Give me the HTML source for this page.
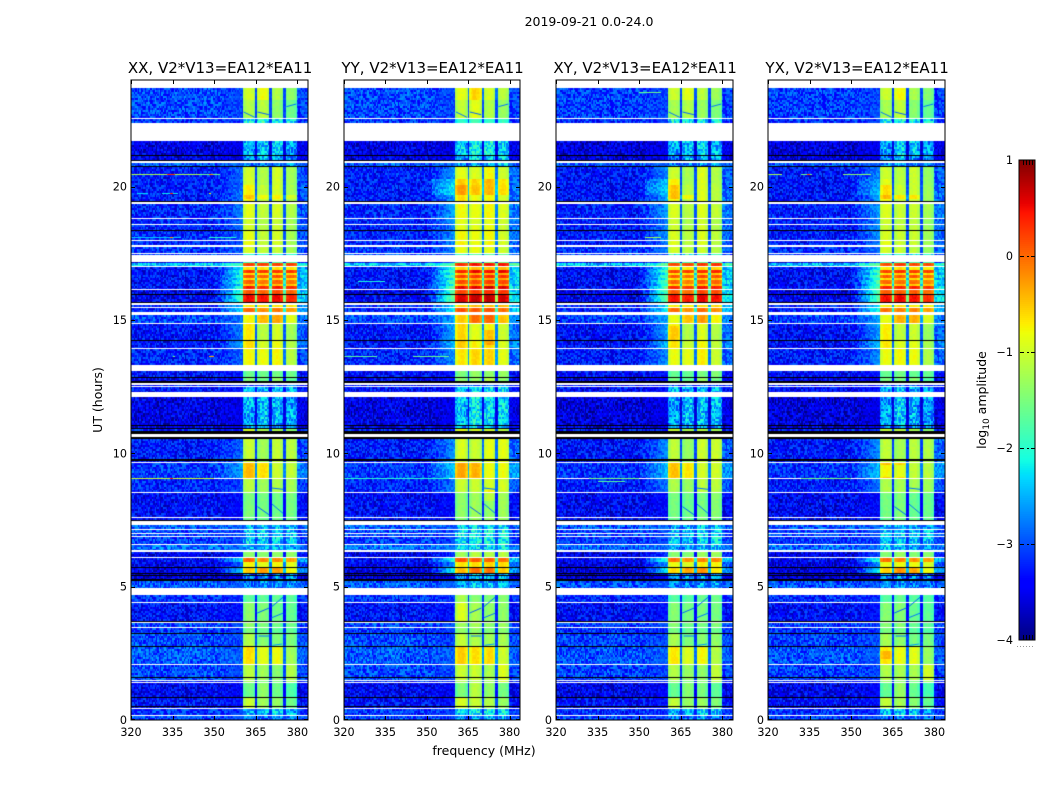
<!DOCTYPE html>
<html>
<head>
<meta charset="utf-8">
<title>Waterfall 2019-09-21</title>
<style>
html,body{margin:0;padding:0;background:#fff}
#fig{position:relative;width:1050px;height:800px;background:#fff;overflow:hidden;font-family:"DejaVu Sans",sans-serif}
canvas{position:absolute;display:block}
svg{position:absolute;left:0;top:0}
text{font-family:"DejaVu Sans",sans-serif;fill:#000}
</style>
</head>
<body>
<div id="fig"></div>
<script>
// ---------- chart data ----------
const panelTitles = ["XX, V2*V13=EA12*EA11","YY, V2*V13=EA12*EA11","XY, V2*V13=EA12*EA11","YX, V2*V13=EA12*EA11"];
const xTicks = [320,335,350,365,380];
const yTicks = [0,5,10,15,20];
const cbarTicks = [1,0,-1,-2,-3,-4];
// spectral windows (MHz)
const subBands = [[360.4,364.7],[365.5,369.8],[370.6,374.9],[375.6,379.7]];
// amplitude roll-off across one window, left edge to right edge
const windowShape = [-0.2,-0.08,0,0.03,0.05,0.05,0.03,0,-0.08,-0.2];
// time bands: UT low, UT high, background, wing, window 1-4 (log10 amplitude); uncovered time stays blank
const bands = [
[23.25,23.70,-3.05,-3.05,-1.0,-0.85,-1.2,-1.4],
[22.56,23.25,-3.05,-3.05,-1.2,-1.15,-1.4,-1.6],
[22.40,22.52,-3.15,-3.15,-2.1,-2.1,-2.2,-2.2],
[21.19,21.72,-3.55,-3.55,-2.55,-2.4,-2.35,-2.6],
[21.00,21.15,-3.55,-3.55,-2.7,-2.5,-2.6,-2.7],
[20.78,20.89,-2.95,-2.95,-2.7,-2.7,-2.7,-2.7],
[20.06,20.72,-3.3,-2.9,-1.0,-1.2,-1.0,-1.3],
[19.46,20.06,-3.3,-2.8,-0.75,-1.1,-1.0,-1.25],
[18.83,19.35,-3.25,-2.8,-0.9,-1.1,-1.0,-1.2],
[18.60,18.79,-3.25,-2.9,-1.0,-1.2,-1.1,-1.3],
[18.39,18.56,-3.25,-2.9,-1.0,-1.15,-1.05,-1.3],
[18.00,18.36,-3.25,-2.9,-0.9,-1.1,-1.0,-1.25],
[17.81,17.96,-3.25,-3.0,-0.85,-1.1,-1.0,-1.25],
[17.53,17.74,-3.15,-3.0,-0.95,-1.1,-1.1,-1.3],
[17.44,17.49,-3.05,-3.05,-2.0,-2.0,-2.0,-2.0],
[17.12,17.18,-3.5,-3.0,-1.8,-1.8,-1.8,-1.8],
[17.04,17.12,-2.4,-1.8,0.2,0.2,0.2,0.2],
[16.89,17.00,-3.35,-2.2,-0.7,-0.7,-0.7,-0.7],
[16.75,16.89,-3.35,-1.9,0.25,0.25,0.25,0.25],
[16.69,16.75,-3.35,-2.2,-0.6,-0.6,-0.6,-0.6],
[16.56,16.69,-3.35,-1.9,0.1,0.0,0.1,0.0],
[16.50,16.56,-3.35,-2.2,-0.6,-0.6,-0.6,-0.6],
[16.35,16.50,-3.35,-1.9,0.05,-0.1,0.0,-0.1],
[16.28,16.35,-3.35,-2.2,-0.5,-0.5,-0.5,-0.5],
[16.16,16.28,-3.35,-1.8,0.4,0.3,0.4,0.3],
[15.98,16.11,-3.5,-1.9,0.1,0.0,0.1,0.0],
[15.68,15.93,-3.45,-1.8,0.5,0.45,0.5,0.35],
[15.49,15.56,-3.25,-2.4,-0.7,-0.7,-0.7,-0.7],
[15.31,15.45,-3.25,-2.3,0.0,-0.2,-0.1,-0.3],
[14.89,15.19,-3.05,-2.8,-0.8,-0.45,-0.35,-0.9],
[14.25,14.85,-3.35,-2.8,-0.7,-1.15,-1.0,-1.3],
[13.95,14.21,-3.35,-2.6,-0.65,-1.0,-0.85,-1.2],
[13.31,13.91,-3.25,-2.9,-0.8,-0.85,-0.8,-1.15],
[12.86,13.09,-3.35,-3.35,-1.6,-1.6,-1.6,-1.6],
[12.71,12.83,-3.45,-3.45,-1.5,-1.6,-1.4,-1.7],
[12.53,12.56,-3.25,-3.25,-3.0,-3.0,-3.0,-3.0],
[12.31,12.49,-3.35,-3.35,-2.5,-2.5,-2.5,-2.5],
[11.08,12.11,-3.55,-3.55,-2.55,-2.45,-2.5,-2.6],
[10.95,11.04,-3.55,-3.55,-2.7,-2.7,-2.7,-2.7],
[10.84,10.91,-3.25,-3.25,-1.0,-1.2,-1.2,-1.4],
[9.77,10.52,-3.3,-2.9,-1.05,-1.3,-1.1,-1.15],
[9.67,9.73,-3.25,-2.9,-1.05,-1.3,-1.1,-1.15],
[9.08,9.64,-3.15,-2.6,-0.45,-0.65,-1.05,-1.1],
[8.64,9.04,-3.25,-3.05,-1.15,-1.3,-1.2,-1.25],
[8.55,8.61,-3.25,-3.05,-1.2,-1.3,-1.2,-1.3],
[7.63,8.51,-3.4,-3.4,-1.5,-1.55,-1.6,-1.55],
[7.50,7.59,-3.35,-3.35,-1.6,-1.6,-1.6,-1.6],
[7.16,7.31,-2.9,-2.9,-2.5,-2.5,-2.5,-2.5],
[7.01,7.13,-3.05,-3.05,-2.4,-2.4,-2.4,-2.4],
[6.90,6.975,-3.05,-3.05,-2.4,-2.4,-2.4,-2.4],
[6.60,6.86,-3.1,-3.1,-2.35,-2.35,-2.35,-2.35],
[6.375,6.55,-2.85,-2.85,-2.5,-2.5,-2.5,-2.5],
[6.12,6.31,-3.5,-3.3,-1.4,-1.4,-1.4,-1.4],
[5.94,6.09,-3.4,-2.2,0.0,-0.2,-0.2,-0.3],
[5.74,5.94,-3.5,-2.9,-0.8,-0.9,-0.8,-0.9],
[5.53,5.70,-3.55,-2.4,-0.55,-0.3,-0.3,-0.8],
[5.44,5.49,-3.7,-3.7,-2.8,-2.8,-2.8,-2.8],
[5.29,5.40,-3.6,-3.6,-2.7,-2.7,-2.7,-2.7],
[4.95,5.21,-2.95,-2.95,-2.7,-2.7,-2.7,-2.7],
[4.41,4.69,-3.15,-3.15,-1.7,-1.7,-1.7,-1.7],
[3.71,4.37,-3.35,-3.35,-1.4,-1.5,-1.6,-1.65],
[3.49,3.65,-3.05,-3.05,-1.4,-1.5,-1.6,-1.6],
[3.26,3.45,-3.15,-3.15,-1.5,-1.6,-1.7,-1.7],
[2.78,3.22,-3.05,-3.05,-1.2,-1.45,-1.5,-1.5],
[2.10,2.74,-2.95,-2.95,-0.65,-0.9,-0.85,-1.3],
[1.50,2.06,-3.05,-3.05,-1.15,-1.3,-1.45,-1.2],
[1.43,1.46,-3.25,-3.25,-1.3,-1.5,-1.5,-1.3],
[0.86,1.39,-3.45,-3.45,-1.6,-1.4,-1.6,-1.8],
[0.45,0.83,-3.35,-3.35,-1.05,-1.3,-1.4,-1.6],
[0.19,0.41,-3.15,-3.15,-2.5,-2.4,-2.35,-2.5],
[0.00,0.15,-3.05,-3.05,-2.8,-2.8,-2.7,-2.8]
];
// masked integrations drawn black: UT low, UT high
const blackBands = [
[21.15,21.19],[20.96,21.0],[20.72,20.78],[19.43,19.46],[18.36,18.39],[15.93,15.98],[15.62,15.66],[14.21,14.25],
[12.83,12.86],[12.62,12.71],[11.04,11.08],[10.91,10.95],[10.73,10.84],[10.54,10.61],[9.73,9.77],
[7.47,7.50],[5.70,5.74],[5.49,5.53],[5.40,5.44],[5.21,5.29],[3.68,3.71],[3.22,3.26],[2.74,2.78],
[1.575,1.61],[0.83,0.86],[0.47,0.51]
];
// per-polarisation offsets
const panelWindowOffset = [[0,0,0,0],[0.1,0.25,0.2,0.25],[-0.05,-0.05,0.05,0.1],[-0.05,0.05,-0.05,-0.05]];
const panelBgOffset = [0,0,-0.05,-0.05];
const panelWingOffset = [0,0.25,0.2,0.2];
// local brightening: panel, UT low, UT high, MHz low, MHz high, delta
const patches = [
[0,19.54,19.69,360,380,0.25],[2,19.54,19.69,360,370,0.35],[3,19.54,19.69,360,375,0.35],
[1,19.7,20.25,352,380,0.35],[1,14.1,14.6,370,375,0.3],[1,8.2,8.6,370,375,0.25],
[2,19.7,20.25,352,365,0.3],[3,19.7,20.25,352,365,0.15],[3,2.3,2.6,360,365,0.25],
[1,14.85,15.19,360,380,0.15],[2,14.2,14.8,360,365,0.2],[3,9.1,9.6,360,370,-0.3],
[1,3.7,4.7,360,365,0.35],[3,1.5,2.06,370,380,0.25]
];
// narrow-band interference: UT, panel, MHz low, MHz high, value
const rfiLines = [
[20.47,0,320,345,-1.2],[20.47,0,333,336,0.3],[20.47,0,345,352,-1.6],[20.47,0,348,349.5,-0.2],
[19.76,0,322,326,-2.3],[19.76,0,331,337,-2.2],[19.76,0,334,335,0.3],[19.76,0,348,349,-0.8],
[18.10,0,320,338,-2.4],[18.10,0,334,335,-0.3],[18.10,0,348,358,-2.0],
[13.65,0,335,336,-1.5],[13.65,0,348,350,-0.3],
[9.06,0,320,350,-1.0],[9.06,0,334,335,0.4],[9.06,1,320,358,-2.0],[9.06,2,332,350,-1.5],[9.06,3,332,350,-1.5],
[13.65,1,320,332,-1.7],[13.65,1,345,358,-1.6],[16.46,1,325,335,-2.1],
[23.55,2,350,358,-1.6],[18.1,2,352,358,-1.3],
[20.47,3,320,325,-1.2],[20.47,3,332,336,-1.6],[20.47,3,334,335,0.2],[20.47,3,347,357,-1.4],
[8.95,2,335,345,-1.7]
];
// faint absorption veins seen in every panel: UT start, MHz start, UT end, MHz end, value
const veins = [
[4.01,365.5,4.20,369.8,-2.9],[4.24,370.6,4.61,374.9,-2.9],[3.83,370.6,4.01,374.9,-2.8],
[3.15,366,3.15,369.8,-2.8],[2.80,371,2.85,374.5,-2.6],
[22.8,360.6,22.6,364.6,-2.8],[22.8,365.6,22.7,369.7,-2.9],[23.0,376,23.1,379.6,-2.8],
[8.0,365.6,7.7,369.7,-2.9],[8.7,370.7,8.65,374.8,-2.8],[8.1,370.8,7.75,374.8,-2.8]
];
// fine channel-to-channel grain sampled by eye from the noise floor
const grain = [0.22,-0.31,0.05,0.34,-0.12,-0.27,0.18,0.02,-0.35,0.29,-0.06,0.13,-0.22,0.31,-0.17,0.08,0.26,-0.33,-0.02,0.16,-0.24,0.35,-0.09,-0.29,0.11,0.24,-0.15,0.03,-0.36,0.2,0.09,-0.19,0.32,-0.26,0.14,-0.04,0.28,-0.11,-0.3,0.17,0.06];

// ---------- axes ----------
const panelLeft = [131,344,556,768];
const panelWidth = [177,176,177,177];
const axTop = 80, axH = 640;
const fMin = 320, fMax = 383.8, nCh = 128;
const Y = ut => axTop + axH * (1 - ut / 24);
const X = (p, f) => panelLeft[p] + panelWidth[p] * (f - fMin) / (fMax - fMin);
const cbTop = 160, cbH = 480;
const cbY = v => cbTop + cbH * (1 - (v + 4) / 5);

function jet(v){
  const t = Math.max(0, Math.min(1, (v + 4) / 5));
  const lerp = (pts) => { for (let i = 1; i < pts.length; i++) { if (t <= pts[i][0]) { const a = pts[i-1], b = pts[i]; return a[1] + (b[1]-a[1]) * (t-a[0]) / (b[0]-a[0]); } } return pts[pts.length-1][1]; };
  const r = lerp([[0,0],[0.35,0],[0.66,1],[0.89,1],[1,0.5]]);
  const g = lerp([[0,0],[0.125,0],[0.375,1],[0.64,1],[0.91,0],[1,0]]);
  const b = lerp([[0,0.5],[0.11,1],[0.34,1],[0.65,0],[1,0]]);
  return 'rgb(' + Math.round(r*255) + ',' + Math.round(g*255) + ',' + Math.round(b*255) + ')';
}

const fig = document.getElementById('fig');
const NS = 'http://www.w3.org/2000/svg';
const svg = document.createElementNS(NS, 'svg');
svg.setAttribute('width', 1050);
svg.setAttribute('height', 800);



function drawPanel(p, ctx){
  const px = panelLeft[p];
  const pw = panelWidth[p];
  const cw = pw / nCh;
  bands.forEach(b => {
    const y0 = Math.round(Y(b[1])) - axTop;
    let y1 = Math.round(Y(b[0])) - axTop;
    if (y1 <= y0) y1 = y0 + 1;
    const bg = b[2] + panelBgOffset[p];
    const wing = b[3] + (b[3] > b[2] ? panelWingOffset[p] : 0);
    const win = [0,1,2,3].map(i => b[4+i] + panelWindowOffset[p][i]);
    const mean = (win[0]+win[1]+win[2]+win[3]) / 4;
    for (let y = y0; y < y1; y += 2) {
      const row = Math.floor(y / 2) + p * 3;
      const ut = 24 * (1 - (y + 1) / axH);
      for (let ch = 0; ch < nCh; ch++) {
        const f = fMin + (ch + 0.5) * (fMax - fMin) / nCh;
        const n = grain[(ch*ch*3 + ch*7 + row*row*5 + row*ch + row*11) % grain.length];
        let v;
        let w = -1;
        subBands.forEach((s, i) => { if (f >= s[0] && f < s[1]) w = i; });
        if (w >= 0) {
          const pos = Math.min(windowShape.length - 1, Math.floor(windowShape.length * (f - subBands[w][0]) / (subBands[w][1] - subBands[w][0])));
          v = win[w] + windowShape[pos] + n * (win[w] < -2 ? 1.3 : 0.18);
        } else if (f >= subBands[0][0] && f < subBands[3][1]) {
          v = Math.max(bg, mean - 1.9) + n * 0.25;
        } else if (f < subBands[0][0]) {
          const k = f > 350 ? (f - 350) / (subBands[0][0] - 350) : 0;
          v = bg + (wing - bg) * k + n * (1.2 - 0.7 * k);
        } else {
          v = bg + (wing - bg) * 0.65 + n * 0.9;
        }
        patches.forEach(q => {
          if (q[0] === p && ut >= q[1] && ut <= q[2] && f >= q[3] && f <= q[4]) v += q[5];
        });
        ctx.fillStyle = jet(v);
        const xa = Math.round(ch * cw);
        const xb = Math.round((ch + 1) * cw);
        ctx.fillRect(xa, y, xb - xa, Math.min(2, y1 - y));
      }
    }
  });
  veins.forEach(l => {
    ctx.strokeStyle = jet(l[4]);
    ctx.lineWidth = 1;
    ctx.beginPath();
    ctx.moveTo(X(p, l[1]) - px, Y(l[0]) - axTop);
    ctx.lineTo(X(p, l[3]) - px, Y(l[2]) - axTop);
    ctx.stroke();
  });
  ctx.fillStyle = '#000';
  blackBands.forEach(b => {
    const y0 = Math.round(Y(b[1])) - axTop;
    const y1 = Math.max(y0 + 1, Math.round(Y(b[0])) - axTop);
    ctx.fillRect(0, y0, pw, y1 - y0);
  });
  rfiLines.forEach(l => {
    if (l[1] !== p) return;
    const y = Math.round(Y(l[0])) - axTop;
    ctx.fillStyle = jet(l[4]);
    const xa = Math.round(X(p, l[2])) - px;
    const xb = Math.round(X(p, l[3])) - px;
    ctx.fillRect(xa, y, Math.max(1, xb - xa), 1);
  });
}

function addLine(x1, y1, x2, y2, stroke){
  const el = document.createElementNS(NS, 'line');
  el.setAttribute('x1', x1);
  el.setAttribute('y1', y1);
  el.setAttribute('x2', x2);
  el.setAttribute('y2', y2);
  el.setAttribute('stroke', stroke || '#000');
  el.setAttribute('stroke-width', 1);
  svg.appendChild(el);
  return el;
}
function addText(x, y, str, size, anchor){
  const el = document.createElementNS(NS, 'text');
  el.setAttribute('x', x);
  el.setAttribute('y', y);
  el.setAttribute('font-size', size);
  el.setAttribute('text-anchor', anchor || 'middle');
  el.textContent = str;
  svg.appendChild(el);
  return el;
}

panelTitles.forEach((title, p) => {
  const c = document.createElement('canvas');
  c.width = panelWidth[p];
  c.height = axH;
  c.style.left = panelLeft[p] + 'px';
  c.style.top = axTop + 'px';
  
  
  fig.appendChild(c);
  drawPanel(p, c.getContext('2d'));

  const frame = document.createElementNS(NS, 'rect');
  frame.setAttribute('x', panelLeft[p]);
  frame.setAttribute('y', axTop);
  frame.setAttribute('width', panelWidth[p]);
  frame.setAttribute('height', axH);
  frame.setAttribute('fill', 'none');
  frame.setAttribute('stroke', '#000');
  frame.setAttribute('stroke-width', 1);
  
  
  svg.appendChild(frame);

  const t = addText(panelLeft[p] + panelWidth[p] / 2 + 0.6, 73, title, 15);
  
  

  xTicks.forEach(v => {
    const x = Math.round(X(p, v)) + 0.5;
    const a = addLine(x, axTop, x, axTop + 4);
    
    
    const b = addLine(x, axTop + axH - 4, x, axTop + axH);
    
    
    const l = addText(X(p, v), 736, String(v), 11.2);
    
    
  });
  yTicks.forEach(v => {
    const y = Math.round(Y(v)) + (v === 0 ? -0.5 : 0.5);
    const a = addLine(panelLeft[p], y, panelLeft[p] + 4, y);
    
    
    const b = addLine(panelLeft[p] + panelWidth[p] - 4, y, panelLeft[p] + panelWidth[p], y);
    
    
    const l = addText(panelLeft[p] - 4, Y(v) + 4, String(v), 11.2, 'end');
    
    
  });
});

const supTitle = addText(589, 26, '2019-09-21 0.0-24.0', 12.5);



const xLabel = addText(484, 755, 'frequency (MHz)', 12.5);



const yLabel = addText(0, 0, 'UT (hours)', 12.5);
yLabel.setAttribute('transform', 'translate(102,400) rotate(-90)');



// colour bar
const cb = document.createElement('canvas');
cb.width = 16;
cb.height = cbH;
cb.style.left = '1019px';
cb.style.top = cbTop + 'px';


fig.appendChild(cb);
const cbCtx = cb.getContext('2d');
for (let y = 0; y < cbH; y += 2) {
  cbCtx.fillStyle = jet(1 - 5 * (y + 1) / cbH);
  cbCtx.fillRect(0, y, 16, 2);
}
const cbFrame = document.createElementNS(NS, 'rect');
cbFrame.setAttribute('x', 1019);
cbFrame.setAttribute('y', cbTop);
cbFrame.setAttribute('width', 16);
cbFrame.setAttribute('height', cbH);
cbFrame.setAttribute('fill', 'none');
cbFrame.setAttribute('stroke', '#000');
cbFrame.setAttribute('stroke-width', 1);


svg.appendChild(cbFrame);

cbarTicks.forEach(v => {
  const y = cbY(v);
  const txt = (v < 0 ? '\u2212' + Math.abs(v) : String(v));
  const l = addText(1013, y + 4, txt, 11.2, 'end');
  
  
  if (v !== 1 && v !== -4) {
    const d = addLine(1020, Math.round(y) + 0.5, 1035, Math.round(y) + 0.5);
    d.setAttribute('stroke-dasharray', '4 3 2 2 4');
    
    
  }
});
[1023, 1026, 1029, 1032].forEach(x => {
  const a = addLine(x + 0.5, cbTop, x + 0.5, cbTop + 5);
  
  
  const b = addLine(x + 0.5, cbTop + cbH - 5, x + 0.5, cbTop + cbH);
  
  
});
const dots = addLine(1017, 646.5, 1035, 646.5, '#999');
dots.setAttribute('stroke-dasharray', '1 2');



const cbLabel = document.createElementNS(NS, 'text');
cbLabel.setAttribute('transform', 'translate(986,400) rotate(-90)');
cbLabel.setAttribute('font-size', 12.5);
cbLabel.setAttribute('text-anchor', 'middle');


const s1 = document.createElementNS(NS, 'tspan');
s1.textContent = 'log';
const s2 = document.createElementNS(NS, 'tspan');
s2.setAttribute('font-size', 9);
s2.setAttribute('dy', 3);
s2.textContent = '10';
const s3 = document.createElementNS(NS, 'tspan');
s3.setAttribute('dy', -3);
s3.textContent = ' amplitude';
cbLabel.appendChild(s1);
cbLabel.appendChild(s2);
cbLabel.appendChild(s3);
svg.appendChild(cbLabel);

fig.appendChild(svg);
</script>
</body>
</html>
